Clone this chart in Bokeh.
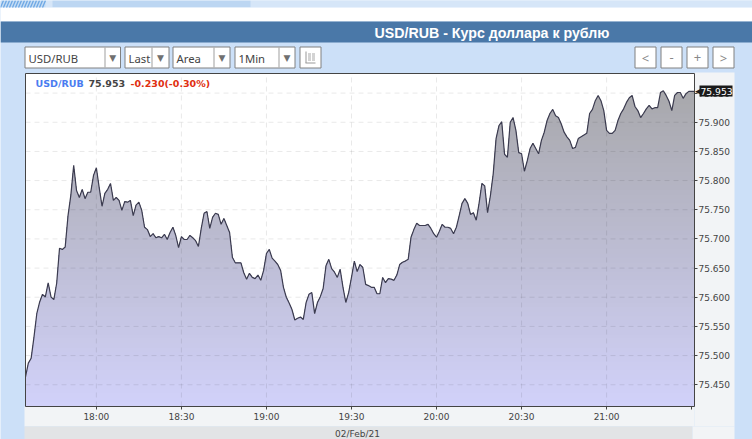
import numpy as np
from bokeh.plotting import figure
from bokeh.models import Range1d, FixedTicker, Label, BoxAnnotation, LinearAxis
from bokeh.embed import file_html
from bokeh.resources import INLINE

title = "USD/RUB - Курс доллара к рублю"
date_label = "02/Feb/21"
tick_minutes = [25, 55, 85, 115, 145, 175, 205]  # minutes after 17:35
tick_labels = ["18:00", "18:30", "19:00", "19:30", "20:00", "20:30", "21:00"]
last_minute_tick = 235
y_ticks = [75.45, 75.50, 75.55, 75.60, 75.65, 75.70, 75.75, 75.80, 75.85, 75.90, 75.95]
last_price = "75.953"
change_text = "-0.230(-0.30%)"
symbol = "USD/RUB"
selectors = ["USD/RUB", "Last", "Area", "1Min"]
buttons = ["<", "-", "+", ">"]

prices = [
75.4635,75.487,75.4955,75.532,75.5725,75.592,75.605,75.6005,75.6245,75.6005,
75.596,75.624,75.684,75.682,75.686,75.740,75.775,75.826,75.783,75.771,
75.785,75.769,75.780,75.780,75.809,75.822,75.788,75.756,75.778,75.785,
75.795,75.766,75.771,75.766,75.749,75.764,75.763,75.766,75.740,75.758,
75.763,75.749,75.720,75.716,75.704,75.709,75.702,75.704,75.702,75.708,
75.699,75.711,75.720,75.706,75.685,75.704,75.699,75.699,75.706,75.702,
75.697,75.687,75.718,75.744,75.747,75.718,75.737,75.744,75.742,75.725,
75.735,75.723,75.711,75.668,75.659,75.659,75.659,75.642,75.631,75.641,
75.634,75.632,75.638,75.629,75.646,75.675,75.682,75.667,75.662,75.656,
75.646,75.617,75.600,75.590,75.579,75.561,75.564,75.566,75.562,75.591,
75.605,75.608,75.572,75.591,75.601,75.615,75.654,75.665,75.649,75.643,
75.634,75.648,75.617,75.591,75.608,75.634,75.662,75.644,75.656,75.651,
75.622,75.620,75.617,75.617,75.606,75.606,75.634,75.625,75.632,75.631,
75.629,75.638,75.656,75.660,75.662,75.665,75.703,75.716,75.727,75.723,
75.723,75.723,75.725,75.718,75.709,75.703,75.713,75.725,75.720,75.720,
75.718,75.709,75.720,75.740,75.761,75.769,75.761,75.742,75.745,75.732,
75.761,75.795,75.791,75.745,75.774,75.812,75.872,75.894,75.901,75.845,
75.840,75.900,75.908,75.886,75.848,75.846,75.816,75.834,75.855,75.864,
75.855,75.846,75.869,75.883,75.903,75.915,75.922,75.911,75.908,75.897,
75.883,75.875,75.869,75.855,75.857,75.872,75.875,75.878,75.881,75.915,
75.922,75.937,75.946,75.937,75.920,75.886,75.881,75.881,75.886,75.903,
75.915,75.923,75.934,75.942,75.946,75.927,75.920,75.908,75.915,75.923,
75.929,75.923,75.925,75.925,75.951,75.954,75.946,75.936,75.920,75.946,
75.951,75.951,75.941,75.949,75.953,75.953,75.953,
]
minutes = np.arange(len(prices))
prices_arr = np.array(prices)

W, H = 752, 439
PAGE = "#cce0f8"
PLOT_L, PLOT_R, PLOT_T, PLOT_B = 25, 694, 73, 406
x_per_px = 236 / (PLOT_R - PLOT_L)
x_floor, x_end = 0.0, 236.0
y_floor, y_top = 75.4127, 75.9836
y_per_px = (y_top - y_floor) / (PLOT_B - PLOT_T)
# the frame fills the canvas; the chart is a sub-rectangle of it
p = figure(width=W, height=H, output_backend="svg", toolbar_location=None,
           x_range=Range1d(x_floor - PLOT_L * x_per_px, x_end + (W - PLOT_R) * x_per_px),
           y_range=Range1d(y_floor - (H - PLOT_B) * y_per_px, y_top + PLOT_T * y_per_px),
           x_axis_location=None, y_axis_location=None,
           min_border=0)
p.background_fill_color = PAGE
p.border_fill_color = PAGE
p.outline_line_color = None
p.grid.visible = False


def box(l, t, r, b, fill, line=None, level="underlay"):
    p.add_layout(BoxAnnotation(left=l, right=r, top=t, bottom=b,
                               left_units="canvas", right_units="canvas",
                               top_units="canvas", bottom_units="canvas",
                               fill_color=fill, fill_alpha=1.0,
                               line_color=line, line_alpha=1.0 if line else 0.0,
                               level=level, editable=False))


def text(x, y, s, size="9px", color="#444444", style="normal", font="DejaVu Sans",
         align="left", level="annotation"):
    p.add_layout(Label(x=x, y=y, x_units="canvas", y_units="canvas", text=s,
                       text_font=font, text_font_size=size, text_color=color,
                       text_font_style=style, text_align=align, text_baseline="middle",
                       level=level))


def px_segment(x0, y0, x1, y1, color, width=1.0):
    """Decoration drawn in page pixels, for the icon and the banner hatch."""
    fx = lambda v: x_floor + (v - PLOT_L) * x_per_px
    fy = lambda v: y_floor + (PLOT_B - v) * y_per_px
    p.segment([fx(x0)], [fy(y0)], [fx(x1)], [fy(y1)], line_color=color, line_width=width)


# page chrome
box(0, 0, W, 7, "#d6e6f8")
box(0, 0, 45, 7, "#c4dcf4")
box(52, 0, 250, 7, "#bcd6f2")
for sx in range(0, 45, 3):
    px_segment(sx, 7, sx + 3, 0, "#6ea8e4", 1.3)
box(0, 7, W, 21, "#ffffff")
box(0, 21, W, 42, "#4a78a8")
text(491.5, 32, title, size="14.2px", color="#ffffff", style="bold", font="Liberation Sans", align="center")
box(694, 72, 734, 426, "#f2f4f6")
box(24, 406, 694, 426, "#f2f4f6")
box(24, 426, 692, 439, "#e2e4e6")
box(692, 426, 734, 439, "#f2f4f6")
box(PLOT_L, PLOT_T, PLOT_R, PLOT_B, "#ffffff")
text(357, 433, date_label, size="9px", color="#444444", align="center")

sel_boxes = [(24, 119.5, 104), (124, 168, 151), (172, 229, 213), (234, 294, 278)]
for (l, r, sep), s in zip(sel_boxes, selectors):
    box(l + .5, 46.5, r + .5, 67.5, "#ffffff", "#808080")
    box(sep, 47, sep + 1, 67, "#a0a0a0")
    text(l + 4, 57.5, s, size="11.3px", color="#444444", font="Noto Sans")
    text((sep + r) / 2 + .5, 57, "▼", size="9px", color="#707070", align="center")

box(299.5, 46.5, 320.5, 67.5, "#ffffff", "#808080")
px_segment(305.5, 51, 305.5, 62.5, "#999999")
px_segment(305, 62.5, 315, 62.5, "#999999")
for yy in (53.5, 55.5, 57.5, 59.5):
    px_segment(307.5, yy, 310.5, yy, "#a8a8a8")
    px_segment(311.5, yy, 314.5, yy, "#a8a8a8")

for l, s in zip((634, 660, 686, 712), buttons):
    box(l + .5, 46.5, l + 21.5, 67.5, "#ffffff", "#808080")
    text(l + 11, 57, s, size="13px", color="#888888", font="Noto Sans", align="center")

# gradient area, painted from the top band down so the bands overlap without seams
top = prices_arr.max()
BANDS = 70
edges = np.linspace(top, y_floor, BANDS + 1)
c0, c1 = np.array([168, 168, 172]), np.array([209, 209, 249])
for i in range(BANDS):
    t = i / (BANDS - 1)
    col = tuple(int(round(v)) for v in c0 + (c1 - c0) * t)
    p.varea(minutes, np.full(len(prices), y_floor), np.minimum(prices_arr, edges[i]),
            fill_color="#%02x%02x%02x" % col)

# dashed grid over the area
p.segment(tick_minutes, y_floor, tick_minutes, y_top, line_color="#000000", line_alpha=0.09,
          line_dash="5 4", line_width=1)
p.segment(x_floor, y_ticks, x_end, y_ticks, line_color="#000000", line_alpha=0.09,
          line_dash="5 4", line_width=1)
p.line(minutes, prices_arr, line_color="#3c3c50", line_width=1.2)

# frame: left and top edges (the axes draw the other two)
p.segment([x_floor, x_floor], [y_floor, y_top], [x_floor, x_end], [y_top, y_top],
          line_color="#444444", line_width=1)

# axes
xa = LinearAxis(fixed_location=y_floor, bounds=(x_floor, x_end))
xa.ticker = FixedTicker(ticks=tick_minutes + [last_minute_tick])
xa.major_label_overrides = {**dict(zip(tick_minutes, tick_labels)), last_minute_tick: ""}
ya = LinearAxis(fixed_location=x_end, bounds=(y_floor, y_top))
ya.ticker = FixedTicker(ticks=y_ticks)
ya.major_label_overrides = {v: "%.3f" % v for v in y_ticks}
for a in (xa, ya):
    a.axis_line_color = "#444444"
    a.major_tick_line_color = "#444444"
    a.major_tick_in = 0
    a.major_tick_out = 3
    a.minor_tick_line_color = None
    a.major_label_text_font = "DejaVu Sans"
    a.major_label_text_font_size = "9px"
    a.major_label_text_color = "#444444"
xa.major_label_standoff = 2
ya.major_label_standoff = 1
p.add_layout(xa, "below")
p.add_layout(ya, "right")

# readout
text(35, 83, symbol, size="9.5px", color="#4a7cf0", style="bold")
text(88, 83, last_price, size="9.5px", color="#444444", style="bold")
text(130, 83, change_text, size="9.5px", color="#e03010", style="bold")

# last-price tag
box(699, 85, 732, 96, "#1a1a1a", level="overlay")
text(694.5, 90, "◀", size="9px", color="#1a1a1a", level="overlay")
text(700, 90.5, last_price, size="9.2px", color="#ffffff", level="overlay")

open("out.html", "w").write(file_html(p, INLINE))
